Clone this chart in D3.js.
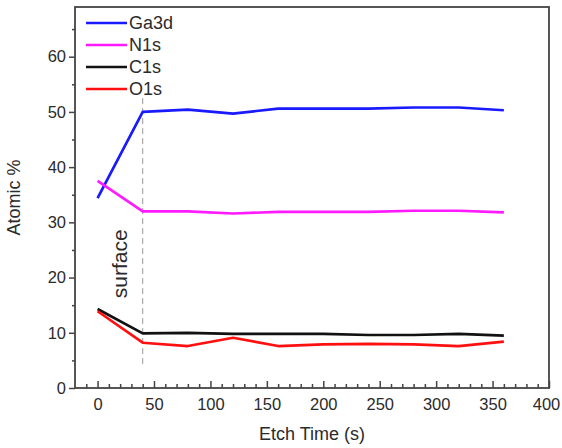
<!DOCTYPE html>
<meta charset="utf-8">
<style>
body { margin: 0; background: #fff; }
text { font-family: "Liberation Sans", Arial, sans-serif; fill: #2b2b2b; }
.line { fill: none; stroke-width: 2.7px; stroke-linejoin: round; }
</style>
<script src="https://d3js.org/d3.v7.min.js"></script>
<div id="chart"></div>
<script>
// etch times (s)
var etchTime = [0, 40, 80, 120, 160, 200, 240, 280, 320, 360];
// atomic % per element
var ga3d = [34.4, 50.0, 50.4, 49.7, 50.6, 50.6, 50.6, 50.8, 50.8, 50.3];
var n1s  = [37.5, 32.0, 32.0, 31.6, 31.9, 31.9, 31.9, 32.1, 32.1, 31.8];
var c1s  = [14.3, 9.9, 10.0, 9.8, 9.8, 9.8, 9.6, 9.6, 9.8, 9.5];
var o1s  = [13.9, 8.2, 7.6, 9.1, 7.6, 7.9, 8.0, 7.9, 7.6, 8.4];

var seriesNames = ["Ga3d", "N1s", "C1s", "O1s"];
var seriesColors = ["#1a1aff", "#ff1aff", "#111111", "#ff1010"];
var seriesData = [ga3d, n1s, c1s, o1s];

var xTicks = [0, 50, 100, 150, 200, 250, 300, 350, 400];
var yTicks = [0, 10, 20, 30, 40, 50, 60];
var surfaceAt = 40;

var W = 562, H = 448;
var margin = {top: 7, right: 13, bottom: 60, left: 75};
var width = W - margin.left - margin.right,
    height = H - margin.top - margin.bottom;

var svg = d3.select("#chart").append("svg")
  .attr("width", W).attr("height", H);
var g = svg.append("g")
  .attr("transform", "translate(" + margin.left + "," + margin.top + ")");

var x = d3.scaleLinear().domain([-20, 400]).range([0, width]);
var y = d3.scaleLinear().domain([0, 69]).range([height, 0]);

// dashed marker for the surface
g.append("line")
  .attr("x1", x(surfaceAt)).attr("x2", x(surfaceAt))
  .attr("y1", y(52.5)).attr("y2", y(4.3))
  .attr("stroke", "#999").attr("stroke-width", 1)
  .attr("stroke-dasharray", "6,4");

g.append("text")
  .attr("transform", "translate(" + (x(surfaceAt) - 16) + "," + y(22.5) + ") rotate(-90)")
  .attr("text-anchor", "middle")
  .style("font-size", "21px")
  .text("surface");

// lines
var line = d3.line()
  .x(function(d, i) { return x(etchTime[i]); })
  .y(function(d) { return y(d); });

seriesData.forEach(function(s, k) {
  g.append("path")
    .datum(s)
    .attr("class", "line")
    .attr("stroke", seriesColors[k])
    .attr("d", line);
});

// x axis, ticks inward
var xAxis = d3.axisBottom(x).tickValues(xTicks).tickSize(-7).tickPadding(10);
var xMinor = d3.axisBottom(x).tickValues(d3.range(-10, 400, 10).filter(function(v) { return v % 50 != 0; }))
  .tickSize(-4).tickFormat("");
var gx = g.append("g").attr("transform", "translate(0," + height + ")").call(xAxis);
var gxm = g.append("g").attr("transform", "translate(0," + height + ")").call(xMinor);

// y axis, ticks outward
var yAxis = d3.axisLeft(y).tickValues(yTicks).tickSize(6).tickPadding(3);
var yMinor = d3.axisLeft(y).tickValues([5, 15, 25, 35, 45, 55, 65]).tickSize(3).tickFormat("");
var gy = g.append("g").call(yAxis);
var gym = g.append("g").call(yMinor);

[gx, gxm, gy, gym].forEach(function(a) {
  a.select(".domain").remove();
  a.selectAll("line").attr("stroke", "#444").attr("stroke-width", 1.5);
  a.selectAll("text").style("font-size", "16.5px").attr("fill", "#2b2b2b")
    .style("font-family", "'Liberation Sans', Arial, sans-serif");
});
// keep the last x label inside the page
gx.selectAll(".tick text").filter(function(d) { return d == 400; }).attr("dx", -3);

// frame
g.append("rect")
  .attr("width", width).attr("height", height)
  .attr("fill", "none").attr("stroke", "#444").attr("stroke-width", 1.8);

// axis titles
g.append("text")
  .attr("x", width / 2).attr("y", height + 52)
  .attr("text-anchor", "middle")
  .style("font-size", "18px")
  .text("Etch Time (s)");

g.append("text")
  .attr("transform", "translate(" + (-55) + "," + (height / 2) + ") rotate(-90)")
  .attr("text-anchor", "middle")
  .style("font-size", "18px")
  .text("Atomic %");

// legend
var legend = g.append("g").attr("transform", "translate(11,16)");
seriesNames.forEach(function(n, k) {
  var row = legend.append("g").attr("transform", "translate(0," + (k * 22) + ")");
  row.append("line")
    .attr("x1", 0).attr("x2", 41)
    .attr("stroke", seriesColors[k]).attr("stroke-width", 2.7);
  row.append("text")
    .attr("x", 43).attr("dy", "0.35em")
    .style("font-size", "18px")
    .text(n);
});
</script>
